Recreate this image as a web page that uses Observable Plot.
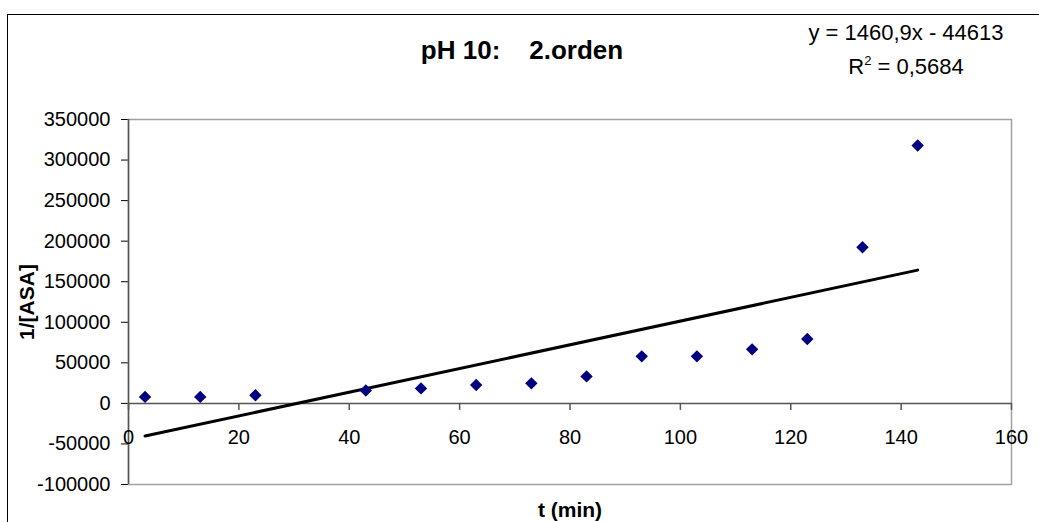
<!DOCTYPE html>
<html>
<head>
<meta charset="utf-8">
<script src="https://cdn.jsdelivr.net/npm/d3@7"></script>
<script src="https://cdn.jsdelivr.net/npm/@observablehq/plot@0.6"></script>
<style>
html, body { margin: 0; padding: 0; background: #fff; overflow: hidden; }
#wrap { position: relative; width: 1039px; height: 522px; font-family: "Liberation Sans", Arial, sans-serif; color: #000; }
#border { position: absolute; left: 7px; top: 14px; width: 1100px; height: 600px; border-left: 1px solid #000; border-top: 1px solid #000; box-sizing: border-box; }
#chart { position: absolute; left: 0; top: 0; }
#title { position: absolute; left: 0; width: 1044px; top: 35px; text-align: center; font-weight: bold; font-size: 26px; line-height: 30px; white-space: pre; }
#eq { position: absolute; left: 806px; width: 200px; top: 16px; text-align: center; font-size: 22px; line-height: 34px; white-space: pre; }
#eq sup { font-size: 13px; vertical-align: 9px; line-height: 0; }
</style>
</head>
<body>
<div id="wrap">
  <div id="border"></div>
  <div id="chart"></div>
  <div id="title"></div>
  <div id="eq"></div>
</div>
<script>
// Data
const tMin = [3, 13, 23, 43, 53, 63, 73, 83, 93, 103, 113, 123, 133, 143];
const invASA = [8000, 8000, 10000, 16000, 18500, 22600, 24700, 33300, 58000, 58000, 66600, 79300, 192400, 318000];
const xTicks = [0, 20, 40, 60, 80, 100, 120, 140, 160];
const yTicks = [-100000, -50000, 0, 50000, 100000, 150000, 200000, 250000, 300000, 350000];
const slope = 1460.9;
const intercept = -44613;
const rSquared = "0,5684";
const titleText = "pH 10:    2.orden";
const xLabel = "t (min)";
const yLabel = "1/[ASA]";

const points = tMin.map((t, i) => ({t, v: invASA[i]}));
const trend = d3.extent(tMin).map(t => ({t, v: slope * t + intercept}));

document.getElementById("title").textContent = titleText;
document.getElementById("eq").innerHTML =
  "y = 1460,9x - 44613<br>R<sup>2</sup> = " + rSquared;

const chart = Plot.plot({
  width: 1039,
  height: 522,
  marginLeft: 128,
  marginRight: 28,
  marginTop: 119,
  marginBottom: 38,
  style: {fontFamily: '"Liberation Sans", Arial, sans-serif', fontSize: "20px", color: "#000", background: "transparent"},
  x: {domain: [0, 160], axis: null},
  y: {domain: [-100000, 350000], ticks: yTicks, tickSize: 7, tickPadding: 11, tickFormat: d => String(d), label: null},
  marks: [
    Plot.frame({stroke: "#a0a0a0", strokeWidth: 1.5}),
    Plot.ruleY([0], {stroke: "#555", strokeWidth: 1.5}),
    Plot.ruleX([0], {stroke: "#555", strokeWidth: 1.5}),
    Plot.ruleX(xTicks, {x: d => d, y1: 0, y2: 0, insetBottom: -7, stroke: "#555", strokeWidth: 1.5}),
    Plot.text(xTicks, {x: d => d, y: 0, dy: 34, text: d => String(d), fontSize: 20}),
    Plot.line(trend, {x: "t", y: "v", stroke: "#000", strokeWidth: 3}),
    Plot.dot(points, {x: "t", y: "v", symbol: "diamond2", r: 5.6, fill: "#000080", stroke: "none"}),
    Plot.text([yLabel], {frameAnchor: "left", dx: -101, rotate: -90, textAnchor: "middle", lineAnchor: "middle", fontWeight: "bold", fontSize: 21}),
    Plot.text([xLabel], {frameAnchor: "bottom", dy: 26, textAnchor: "middle", lineAnchor: "middle", fontWeight: "bold", fontSize: 21})
  ]
});
document.getElementById("chart").appendChild(chart);
</script>
</body>
</html>
